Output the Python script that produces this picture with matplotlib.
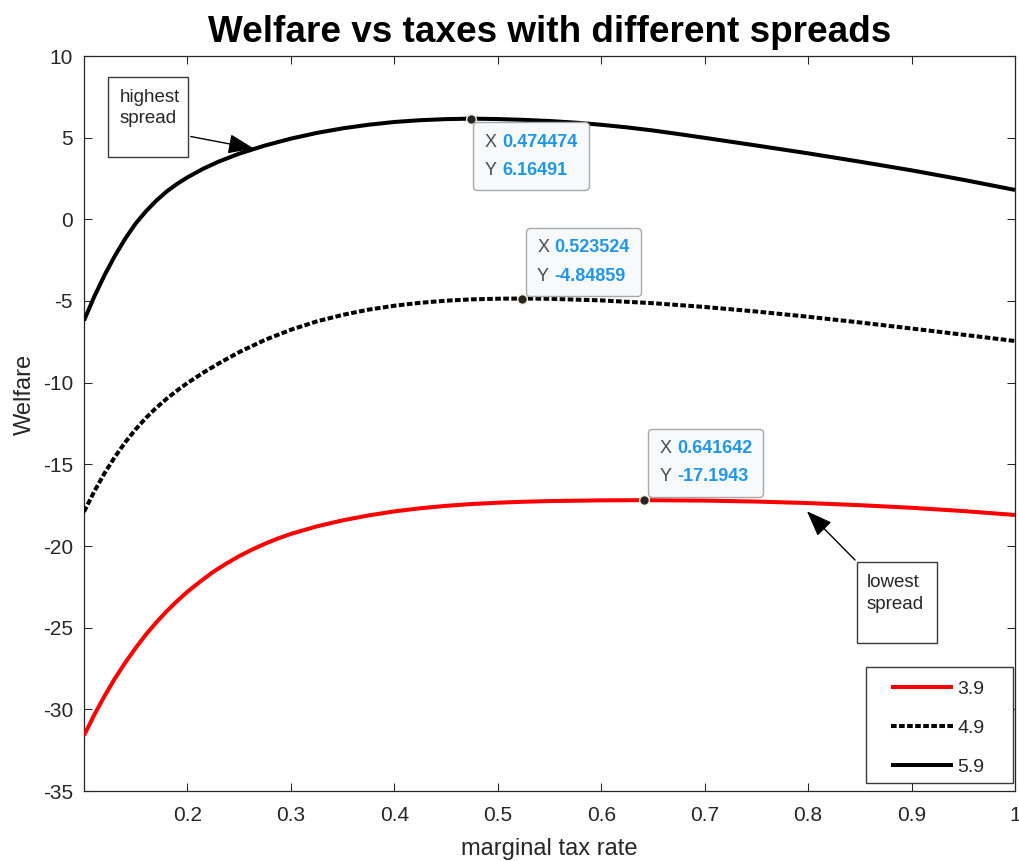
import matplotlib
matplotlib.use("Agg")
import matplotlib.pyplot as plt
from matplotlib.patches import Rectangle, FancyArrowPatch
from matplotlib.offsetbox import TextArea, HPacker, VPacker, AnnotationBbox

plt.rcParams["font.family"] = ["Liberation Sans", "DejaVu Sans"]

# ── data: welfare as a function of the marginal tax rate ─────────────────────
spreads = ["3.9", "4.9", "5.9"]

tax_39 = [0.10, 0.11, 0.12, 0.13, 0.14, 0.15, 0.16, 0.17, 0.18, 0.19, 0.20,
          0.2125, 0.225, 0.2375, 0.25, 0.2625, 0.275, 0.2875, 0.30, 0.325, 0.35,
          0.375, 0.40, 0.425, 0.45, 0.475, 0.50, 0.525, 0.55, 0.60, 0.641642,
          0.70, 0.75, 0.80, 0.85, 0.90, 0.95, 1.00]
welfare_39 = [-31.60, -30.33, -29.17, -28.10, -27.13, -26.24, -25.41, -24.67,
              -23.99, -23.37, -22.80, -22.17, -21.58, -21.08, -20.62, -20.22,
              -19.86, -19.54, -19.26, -18.80, -18.43, -18.13, -17.88, -17.69,
              -17.54, -17.43, -17.35, -17.29, -17.25, -17.205, -17.1943, -17.22,
              -17.28, -17.37, -17.50, -17.66, -17.86, -18.10]

tax_49 = [0.10, 0.11, 0.12, 0.13, 0.14, 0.15, 0.16, 0.17, 0.18, 0.19, 0.20,
          0.215, 0.23, 0.25, 0.275, 0.30, 0.325, 0.35, 0.375, 0.40, 0.425, 0.45,
          0.475, 0.50, 0.523524, 0.55, 0.60, 0.65, 0.70, 0.75, 0.80, 0.85, 0.90,
          0.95, 1.00]
welfare_49 = [-17.90, -16.65, -15.53, -14.53, -13.64, -12.85, -12.15, -11.53,
              -10.98, -10.48, -10.02, -9.40, -8.83, -8.13, -7.38, -6.76, -6.25,
              -5.85, -5.53, -5.29, -5.11, -4.98, -4.90, -4.86, -4.84859, -4.864,
              -4.964, -5.134, -5.364, -5.644, -5.964, -6.314, -6.684, -7.064,
              -7.449]

tax_59 = [0.10, 0.11, 0.12, 0.13, 0.14, 0.15, 0.16, 0.17, 0.18, 0.19, 0.20,
          0.215, 0.23, 0.25, 0.275, 0.30, 0.325, 0.35, 0.375, 0.40, 0.425, 0.45,
          0.474474, 0.50, 0.525, 0.55, 0.575, 0.60, 0.625, 0.65, 0.675, 0.70,
          0.75, 0.80, 0.85, 0.90, 0.95, 1.00]
welfare_59 = [-6.20, -4.72, -3.40, -2.22, -1.17, -0.25, 0.50, 1.15, 1.71, 2.17,
              2.57, 3.09, 3.53, 4.02, 4.52, 4.94, 5.29, 5.57, 5.79, 5.96, 6.07,
              6.135, 6.16491, 6.14, 6.09, 6.02, 5.92, 5.79, 5.63, 5.44, 5.22,
              4.99, 4.52, 4.04, 3.53, 3.00, 2.42, 1.80]

# maxima picked out with data tips
peak_39 = (0.641642, -17.1943)
peak_49 = (0.523524, -4.84859)
peak_59 = (0.474474, 6.16491)

x_ticks = [0.2, 0.3, 0.4, 0.5, 0.6, 0.7, 0.8, 0.9, 1.0]
x_ticklabels = ["0.2", "0.3", "0.4", "0.5", "0.6", "0.7", "0.8", "0.9", "1"]
y_ticks = [-35, -30, -25, -20, -15, -10, -5, 0, 5, 10]

# ── style ────────────────────────────────────────────────────────────────────
AXC = "#262626"
RED = "#ff0000"
TIP_BLUE = "#1f97e8"
TIP_GREY = "#4a4a4a"
W, H = 1019, 861

fig = plt.figure(figsize=(W / 100, H / 100), dpi=100)
ax = fig.add_axes([84 / W, 1 - 791 / H, 931 / W, 735 / H])

l39, = ax.plot(tax_39, welfare_39, color=RED, lw=2.9, solid_capstyle="butt",
               solid_joinstyle="round", zorder=3)
l49, = ax.plot(tax_49, welfare_49, color="black", lw=2.9,
               linestyle=(0, (1.4, 0.6)), dash_capstyle="butt", zorder=3)
l59, = ax.plot(tax_59, welfare_59, color="black", lw=2.9, solid_capstyle="butt",
               solid_joinstyle="round", zorder=3)

ax.set_xlim(0.1, 1.0)
ax.set_ylim(-35, 10)
ax.set_xticks(x_ticks)
ax.set_xticklabels(x_ticklabels)
ax.set_yticks(y_ticks)
ax.set_yticklabels([str(v) for v in y_ticks])
ax.tick_params(direction="in", length=6, width=0.75, top=True, right=True,
               labelsize=15, colors=AXC, pad=8)
ax.tick_params(axis="x", pad=11)
for sp in ax.spines.values():
    sp.set_color(AXC)
    sp.set_linewidth(0.9)

fig.text(549.5 / W, 1 - 42 / H, "Welfare vs taxes with different spreads",
         ha="center", va="baseline", fontsize=26.6, fontweight="bold", color="black")

ax.set_xlabel("marginal tax rate", fontsize=17, color=AXC)
ax.xaxis.set_label_coords(0.5, (791 - 849) / 735)
ax.xaxis.label.set_verticalalignment("center")
ax.set_ylabel("Welfare", fontsize=17, color=AXC)
ax.yaxis.set_label_coords((25 - 84) / 931, (791 - 394) / 735)
ax.yaxis.label.set_verticalalignment("center")
ax.yaxis.label.set_horizontalalignment("center")


# ── data tips at the maxima ──────────────────────────────────────────────────
def data_tip(pt, offset, align):
    ax.plot(*pt, marker="o", ms=7, mfc="#262626", mec="#f2f2dc", mew=1.0, zorder=5)
    rows = []
    for name, val in (("X", f"{pt[0]:g}"), ("Y", f"{pt[1]:g}")):
        rows.append(HPacker(children=[
            TextArea(name, textprops=dict(color=TIP_GREY, fontsize=13)),
            TextArea(val, textprops=dict(color=TIP_BLUE, fontsize=13, fontweight="bold")),
        ], sep=4, pad=0, align="baseline"))
    box = VPacker(children=rows, sep=8, pad=0, align="left")
    ab = AnnotationBbox(box, pt, xybox=offset, xycoords="data", boxcoords="offset pixels",
                        box_alignment=align, fontsize=12,
                        bboxprops=dict(boxstyle="round,pad=0.68,rounding_size=0.25",
                                       fc="#f8f9fb", ec="#a8a8a8", lw=1.0), zorder=6)
    ax.add_artist(ab)


data_tip(peak_59, (13, -15), (0, 1))
data_tip(peak_49, (15, 14), (0, 0))
data_tip(peak_39, (15, 15), (0, 0))


# ── text boxes with arrows ───────────────────────────────────────────────────
def px_to_axes(px, py):
    return (px - 84) / 931, (791 - py) / 735


def text_box(x0, y0, x1, y1, tx, ty, label, tail, tip):
    (ax0, ay1), (ax1, ay0) = px_to_axes(x0, y0), px_to_axes(x1, y1)
    ax.add_patch(Rectangle((ax0, ay0), ax1 - ax0, ay1 - ay0, transform=ax.transAxes,
                           fc="white", ec="#3a3a3a", lw=1.0, zorder=4))
    ax.text(*px_to_axes(tx, ty), label, transform=ax.transAxes, ha="left", va="center",
            fontsize=13.5, color=AXC, linespacing=1.35, zorder=5)
    arr = FancyArrowPatch((0, 0), (1, 1), transform=None,
                          arrowstyle="-|>,head_length=1.0,head_width=0.38",
                          mutation_scale=16, color="black", lw=1.0, zorder=4)
    arr.set_positions(ax.transAxes.transform(px_to_axes(*tail)), ax.transData.transform(tip))
    ax.add_patch(arr)


text_box(108, 77, 188, 157, 120, 108, "highest\nspread", (188, 136), (0.267, 4.3))
text_box(857, 562, 937, 643, 867, 593.5, "lowest\nspread", (857, 562), (0.797, -17.75))

# ── legend ───────────────────────────────────────────────────────────────────
lx0, ly1 = px_to_axes(866, 667)
lx1, ly0 = px_to_axes(1013, 783)
ax.add_patch(Rectangle((lx0, ly0), lx1 - lx0, ly1 - ly0, transform=ax.transAxes,
                       fc="white", ec="#3a3a3a", lw=1.0, zorder=7))
leg = ax.legend([l39, l49, l59], spreads, loc="upper left",
                bbox_to_anchor=px_to_axes(891, 680), borderaxespad=0, borderpad=0,
                frameon=False, fontsize=14, handlelength=3.2, handletextpad=0.2,
                labelspacing=1.1)
leg.set_zorder(8)
for t in leg.get_texts():
    t.set_color(AXC)

fig.savefig("out.png", dpi=100)
